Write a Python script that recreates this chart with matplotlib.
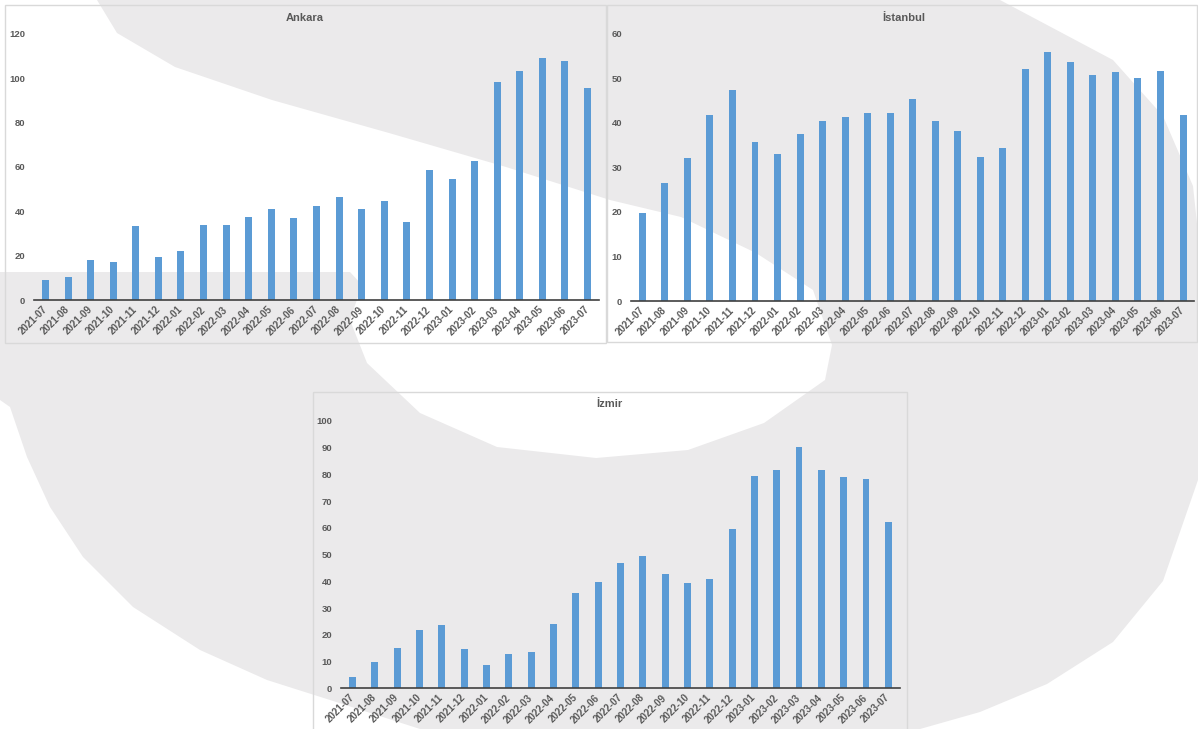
import matplotlib
matplotlib.use('Agg')
import matplotlib.pyplot as plt
from matplotlib.patches import Polygon, Rectangle

plt.rcParams['font.family'] = ['Liberation Sans', 'DejaVu Sans']

months = ['2021-07', '2021-08', '2021-09', '2021-10', '2021-11', '2021-12',
          '2022-01', '2022-02', '2022-03', '2022-04', '2022-05', '2022-06',
          '2022-07', '2022-08', '2022-09', '2022-10', '2022-11', '2022-12',
          '2023-01', '2023-02', '2023-03', '2023-04', '2023-05', '2023-06',
          '2023-07']

ankara = [9.1, 10.3, 18.0, 17.2, 33.3, 19.3, 22.2, 33.7, 33.9, 37.5, 41.2, 37.0,
          42.4, 46.3, 41.2, 44.5, 35.4, 58.6, 54.4, 62.8, 98.4, 103.1, 109.0,
          107.9, 95.4]
istanbul = [19.7, 26.4, 32.0, 41.7, 47.4, 35.6, 32.9, 37.4, 40.5, 41.2, 42.1,
            42.3, 45.4, 40.5, 38.1, 32.3, 34.3, 52.1, 55.8, 53.6, 50.8, 51.3,
            50.0, 51.7, 41.7]
izmir = [4.4, 9.7, 15.0, 21.8, 23.6, 14.6, 8.9, 12.7, 13.5, 24.1, 35.5, 39.9,
         46.8, 49.6, 42.8, 39.4, 41.0, 59.7, 79.6, 81.8, 90.3, 81.5, 79.2, 78.4,
         62.1]

W, H = 1198, 729
fig = plt.figure(figsize=(W / 100, H / 100), dpi=100)

# background watermark, drawn in pixel coordinates
bg = fig.add_axes([0, 0, 1, 1], zorder=-1)
bg.set_xlim(0, W)
bg.set_ylim(H, 0)
bg.axis('off')
gray = '#ebeaeb'
bg.add_patch(Rectangle((0, 0), W, H, color=gray, lw=0))
white_shapes = [
    [(0, 0), (97, 0), (117, 33), (175, 67), (272, 100), (389, 133), (506, 167),
     (610, 200), (681, 217), (756, 253), (813, 290), (832, 345), (825, 380),
     (764, 423), (688, 450), (596, 458), (497, 447), (420, 413), (367, 363),
     (350, 320), (362, 285), (350, 272), (0, 272)],
    [(1000, 0), (1113, 60), (1163, 116), (1193, 186), (1198, 233), (1198, 0)],
    [(1198, 480), (1163, 581), (1113, 642), (1047, 684), (980, 712), (920, 729),
     (1198, 729)],
    [(0, 400), (10, 407), (27, 457), (50, 507), (83, 557), (133, 607),
     (200, 650), (267, 680), (330, 700), (420, 729), (0, 729)],
]
for pts in white_shapes:
    bg.add_patch(Polygon(pts, closed=True, color='white', lw=0))

# chart frames
frames = [(5, 5, 601, 338), (607, 5, 590, 337), (313, 392, 594, 345)]
for x, y, w, h in frames:
    bg.add_patch(Rectangle((x, y), w, h, fill=False, edgecolor='#d9d9d9', lw=1))

charts = [
    ('Ankara', ankara, (34.2, 598.8, 33.7, 300.3), 120, 20, (305, 17.7)),
    ('İstanbul', istanbul, (631.1, 1194.3, 33.7, 301.0), 60, 10, (904, 17.7)),
    ('İzmir', izmir, (341.3, 899.5, 421.0, 688.3), 100, 10, (609.7, 404)),
]

txt = '#595959'
for name, vals, (l, r, t, b), ymax, step, (tx, ty) in charts:
    ax = fig.add_axes([l / W, 1 - b / H, (r - l) / W, (b - t) / H])
    ax.patch.set_alpha(0)
    ax.bar(range(len(months)), vals, width=0.31, color='#5b9bd5', zorder=2)
    ax.set_xlim(-0.5, len(months) - 0.5)
    ax.set_ylim(0, ymax)
    ax.set_yticks(range(0, ymax + 1, step))
    ax.set_xticks(range(len(months)))
    ax.set_xticklabels(months, rotation=45, ha='right', va='center',
                       rotation_mode='anchor')
    for s in ['left', 'top', 'right']:
        ax.spines[s].set_visible(False)
    ax.spines['bottom'].set_color('#404040')
    ax.spines['bottom'].set_linewidth(1.2)
    ax.tick_params(axis='y', length=0, pad=6.5, labelsize=6.8, labelcolor=txt)
    ax.tick_params(axis='x', length=0, pad=5.5, labelsize=7, labelcolor=txt)
    for lab in ax.get_xticklabels() + ax.get_yticklabels():
        lab.set_fontweight('bold')
    fig.text(tx / W, 1 - ty / H, name, ha='center', va='center', fontsize=8,
             fontweight='bold', color=txt)

plt.savefig('out.png', dpi=100)
